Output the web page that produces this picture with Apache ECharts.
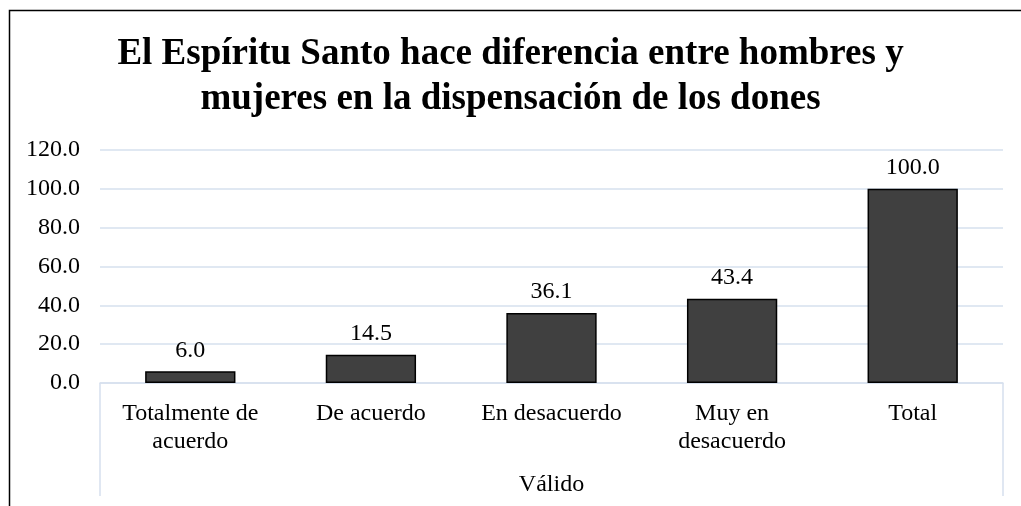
<!DOCTYPE html>
<html>
<head>
<meta charset="utf-8">
<script src="https://cdn.jsdelivr.net/npm/echarts@6/dist/echarts.min.js"></script>
<style>
  html, body { margin: 0; padding: 0; background: #fff; }
  #chart { width: 1021px; height: 506px; }
</style>
</head>
<body>
<div id="chart"></div>
<script>
// categorias y valores
const categories = ['Totalmente de\nacuerdo', 'De acuerdo', 'En desacuerdo', 'Muy en\ndesacuerdo', 'Total']
const values = [6.0, 14.5, 36.1, 43.4, 100.0]
const groupLabel = ['Válido']
const titleText = 'El Espíritu Santo hace diferencia entre hombres y\nmujeres en la dispensación de los dones'

const font = 'Liberation Serif'
const gridColor = '#d6e0ee'
const fs = 24

const myChart = echarts.init(document.getElementById('chart'))
myChart.setOption({
  animation: false,
  title: {
    text: titleText,
    left: 'center',
    top: 27,
    textStyle: { fontFamily: font, fontWeight: 'bold', fontSize: 37, lineHeight: 45, color: '#000' }
  },
  grid: { left: 100, right: 18, top: 150, bottom: 123 },
  xAxis: [
    {
      type: 'category',
      data: categories,
      axisLine: { lineStyle: { color: gridColor, width: 1.5 } },
      axisTick: { show: false },
      axisLabel: { fontFamily: font, fontSize: fs, color: '#000', lineHeight: 28, margin: 17, interval: 0 }
    },
    {
      // nivel de agrupacion
      type: 'category',
      position: 'bottom',
      data: groupLabel,
      axisLine: { show: false },
      axisTick: { show: true, length: 113, lineStyle: { color: gridColor, width: 1.5 } },
      axisLabel: { fontFamily: font, fontSize: fs, color: '#000', margin: 90 }
    }
  ],
  yAxis: {
    type: 'value',
    min: 0,
    max: 120,
    interval: 20,
    axisLine: { show: false },
    axisTick: { show: false },
    splitLine: { lineStyle: { color: gridColor, width: 1.5 } },
    axisLabel: {
      fontFamily: font, fontSize: fs, color: '#000', margin: 20,
      formatter: v => v.toFixed(1)
    }
  },
  series: [{
    type: 'bar',
    data: values,
    barWidth: '50%',
    itemStyle: { color: '#404040', borderColor: '#000', borderWidth: 1.5 },
    label: {
      show: true,
      position: 'top',
      distance: 9,
      fontFamily: font,
      fontSize: fs,
      color: '#000',
      formatter: p => p.value.toFixed(1)
    }
  }],
  graphic: [{
    type: 'rect',
    shape: { x: 9.5, y: 10.5, width: 1100, height: 600 },
    style: { fill: 'none', stroke: '#000', lineWidth: 1.5 },
    silent: true
  }]
})
</script>
</body>
</html>
